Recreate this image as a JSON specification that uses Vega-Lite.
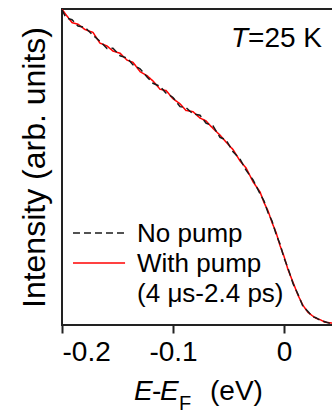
{
  "$schema": "https://vega.github.io/schema/vega-lite/v6.json",
  "width": 275,
  "height": 316,
  "autosize": {"type": "none"},
  "padding": {"left": 62, "top": 9, "right": 0, "bottom": 86},
  "background": "white",
  "config": {
    "view": {"stroke": "#222222", "strokeWidth": 2},
    "font": "Liberation Sans",
    "text": {"font": "Liberation Sans", "color": "#000000"}
  },
  "datasets": {
    "spectra": [
      {"E": -0.2000, "I": 0.997, "s": "No pump"}, {"E": -0.2000, "I": 0.999, "s": "With pump"},
      {"E": -0.1964, "I": 0.972, "s": "No pump"}, {"E": -0.1964, "I": 0.982, "s": "With pump"},
      {"E": -0.1910, "I": 0.966, "s": "No pump"}, {"E": -0.1910, "I": 0.957, "s": "With pump"},
      {"E": -0.1856, "I": 0.946, "s": "No pump"}, {"E": -0.1856, "I": 0.952, "s": "With pump"},
      {"E": -0.1793, "I": 0.942, "s": "No pump"}, {"E": -0.1793, "I": 0.935, "s": "With pump"},
      {"E": -0.1721, "I": 0.917, "s": "No pump"}, {"E": -0.1721, "I": 0.926, "s": "With pump"},
      {"E": -0.1658, "I": 0.898, "s": "No pump"}, {"E": -0.1658, "I": 0.892, "s": "With pump"},
      {"E": -0.1595, "I": 0.875, "s": "No pump"}, {"E": -0.1595, "I": 0.883, "s": "With pump"},
      {"E": -0.1541, "I": 0.876, "s": "No pump"}, {"E": -0.1541, "I": 0.867, "s": "With pump"},
      {"E": -0.1477, "I": 0.852, "s": "No pump"}, {"E": -0.1477, "I": 0.860, "s": "With pump"},
      {"E": -0.1414, "I": 0.845, "s": "No pump"}, {"E": -0.1414, "I": 0.838, "s": "With pump"},
      {"E": -0.1360, "I": 0.823, "s": "No pump"}, {"E": -0.1360, "I": 0.831, "s": "With pump"},
      {"E": -0.1297, "I": 0.811, "s": "No pump"}, {"E": -0.1297, "I": 0.802, "s": "With pump"},
      {"E": -0.1234, "I": 0.785, "s": "No pump"}, {"E": -0.1234, "I": 0.789, "s": "With pump"},
      {"E": -0.1180, "I": 0.765, "s": "No pump"}, {"E": -0.1180, "I": 0.772, "s": "With pump"},
      {"E": -0.1117, "I": 0.755, "s": "No pump"}, {"E": -0.1117, "I": 0.746, "s": "With pump"},
      {"E": -0.1063, "I": 0.734, "s": "No pump"}, {"E": -0.1063, "I": 0.742, "s": "With pump"},
      {"E": -0.1000, "I": 0.720, "s": "No pump"}, {"E": -0.1000, "I": 0.716, "s": "With pump"},
      {"E": -0.0937, "I": 0.691, "s": "No pump"}, {"E": -0.0937, "I": 0.700, "s": "With pump"},
      {"E": -0.0883, "I": 0.688, "s": "No pump"}, {"E": -0.0883, "I": 0.679, "s": "With pump"},
      {"E": -0.0820, "I": 0.668, "s": "No pump"}, {"E": -0.0820, "I": 0.675, "s": "With pump"},
      {"E": -0.0757, "I": 0.664, "s": "No pump"}, {"E": -0.0757, "I": 0.655, "s": "With pump"},
      {"E": -0.0703, "I": 0.639, "s": "No pump"}, {"E": -0.0703, "I": 0.646, "s": "With pump"},
      {"E": -0.0640, "I": 0.630, "s": "No pump"}, {"E": -0.0640, "I": 0.622, "s": "With pump"},
      {"E": -0.0577, "I": 0.594, "s": "No pump"}, {"E": -0.0577, "I": 0.601, "s": "With pump"},
      {"E": -0.0523, "I": 0.586, "s": "No pump"}, {"E": -0.0523, "I": 0.579, "s": "With pump"},
      {"E": -0.0459, "I": 0.548, "s": "No pump"}, {"E": -0.0459, "I": 0.555, "s": "With pump"},
      {"E": -0.0396, "I": 0.525, "s": "No pump"}, {"E": -0.0396, "I": 0.519, "s": "With pump"},
      {"E": -0.0342, "I": 0.490, "s": "No pump"}, {"E": -0.0342, "I": 0.497, "s": "With pump"},
      {"E": -0.0279, "I": 0.459, "s": "No pump"}, {"E": -0.0279, "I": 0.453, "s": "With pump"},
      {"E": -0.0216, "I": 0.415, "s": "No pump"}, {"E": -0.0216, "I": 0.421, "s": "With pump"},
      {"E": -0.0180, "I": 0.392, "s": "No pump"}, {"E": -0.0180, "I": 0.387, "s": "With pump"},
      {"E": -0.0144, "I": 0.355, "s": "No pump"}, {"E": -0.0144, "I": 0.361, "s": "With pump"},
      {"E": -0.0108, "I": 0.329, "s": "No pump"}, {"E": -0.0108, "I": 0.324, "s": "With pump"},
      {"E": -0.0072, "I": 0.288, "s": "No pump"}, {"E": -0.0072, "I": 0.293, "s": "With pump"},
      {"E": -0.0036, "I": 0.256, "s": "No pump"}, {"E": -0.0036, "I": 0.251, "s": "With pump"},
      {"E": 0.0000, "I": 0.212, "s": "No pump"}, {"E": 0.0000, "I": 0.217, "s": "With pump"},
      {"E": 0.0036, "I": 0.179, "s": "No pump"}, {"E": 0.0036, "I": 0.175, "s": "With pump"},
      {"E": 0.0081, "I": 0.131, "s": "No pump"}, {"E": 0.0081, "I": 0.135, "s": "With pump"},
      {"E": 0.0126, "I": 0.097, "s": "No pump"}, {"E": 0.0126, "I": 0.094, "s": "With pump"},
      {"E": 0.0171, "I": 0.058, "s": "No pump"}, {"E": 0.0171, "I": 0.062, "s": "With pump"},
      {"E": 0.0216, "I": 0.043, "s": "No pump"}, {"E": 0.0216, "I": 0.040, "s": "With pump"},
      {"E": 0.0252, "I": 0.027, "s": "No pump"}, {"E": 0.0252, "I": 0.030, "s": "With pump"},
      {"E": 0.0288, "I": 0.023, "s": "No pump"}, {"E": 0.0288, "I": 0.021, "s": "With pump"},
      {"E": 0.0324, "I": 0.015, "s": "No pump"}, {"E": 0.0324, "I": 0.017, "s": "With pump"},
      {"E": 0.0369, "I": 0.010, "s": "No pump"}, {"E": 0.0369, "I": 0.009, "s": "With pump"},
      {"E": 0.0414, "I": 0.005, "s": "No pump"}, {"E": 0.0414, "I": 0.007, "s": "With pump"},
      {"E": 0.0468, "I": 0.003, "s": "No pump"}, {"E": 0.0468, "I": 0.004, "s": "With pump"}
    ]
  },
  "layer": [
    {
      "data": {"name": "spectra"},
      "transform": [{"filter": "datum.s == 'With pump'"}],
      "mark": {"type": "line", "strokeWidth": 1.5, "clip": true},
      "encoding": {
        "x": {
          "field": "E", "type": "quantitative",
          "scale": {"domain": [-0.2, 0.0477], "nice": false, "zero": false},
          "axis": {
            "values": [-0.2, -0.1, 0],
            "labelExpr": "datum.value == 0 ? '0' : replace(format(datum.value, '.1f'), '\u2212', '-')",
            "title": null, "grid": false, "domain": false,
            "tickSize": 8, "tickWidth": 2, "tickColor": "#222222",
            "labelFontSize": 28, "labelFont": "Liberation Sans", "labelColor": "#000000",
            "labelPadding": 5
          }
        },
        "y": {
          "field": "I", "type": "quantitative",
          "scale": {"domain": [0, 1], "nice": false, "zero": false},
          "axis": {
            "ticks": false, "labels": false, "domain": false, "grid": false,
            "title": "Intensity (arb. units)",
            "titleFontSize": 32, "titleFont": "Liberation Sans", "titleFontWeight": "normal", "titleColor": "#000000",
            "titleAngle": -90, "titleX": -28, "titleY": 158,
            "titleAlign": "center", "titleBaseline": "middle"
          }
        },
        "color": {
          "field": "s", "type": "nominal",
          "scale": {"domain": ["No pump", "With pump"], "range": ["#1a1a1a", "#ff0000"]},
          "legend": null
        },
        "strokeDash": {
          "field": "s", "type": "nominal",
          "scale": {"domain": ["No pump", "With pump"], "range": [[7, 4], [1, 0]]},
          "legend": null
        }
      }
    },
    {
      "data": {"name": "spectra"},
      "transform": [{"filter": "datum.s == 'No pump'"}],
      "mark": {"type": "line", "strokeWidth": 1.5, "clip": true},
      "encoding": {
        "x": {"field": "E", "type": "quantitative"},
        "y": {"field": "I", "type": "quantitative"},
        "color": {"field": "s", "type": "nominal", "legend": null},
        "strokeDash": {"field": "s", "type": "nominal", "legend": null}
      }
    },
    {
      "data": {"values": [{"s": "No pump"}]},
      "mark": {"type": "rule", "strokeWidth": 1.6},
      "encoding": {
        "x": {"datum": -0.1901}, "x2": {"datum": -0.1432}, "y": {"datum": 0.291},
        "color": {"field": "s", "type": "nominal", "legend": null},
        "strokeDash": {"field": "s", "type": "nominal", "legend": null}
      }
    },
    {
      "data": {"values": [{"s": "With pump"}]},
      "mark": {"type": "rule", "strokeWidth": 1.6},
      "encoding": {
        "x": {"datum": -0.1901}, "x2": {"datum": -0.1432}, "y": {"datum": 0.196},
        "color": {"field": "s", "type": "nominal", "legend": null},
        "strokeDash": {"field": "s", "type": "nominal", "legend": null}
      }
    },
    {
      "data": {"values": [{"t": "No pump"}]},
      "mark": {"type": "text", "align": "left", "baseline": "alphabetic", "fontSize": 26},
      "encoding": {"x": {"datum": -0.1324}, "y": {"datum": 0.263}, "text": {"field": "t"}}
    },
    {
      "data": {"values": [{"t": "With pump"}]},
      "mark": {"type": "text", "align": "left", "baseline": "alphabetic", "fontSize": 26},
      "encoding": {"x": {"datum": -0.1324}, "y": {"datum": 0.168}, "text": {"field": "t"}}
    },
    {
      "data": {"values": [{"t": "(4 \u03bcs-2.4 ps)"}]},
      "mark": {"type": "text", "align": "left", "baseline": "alphabetic", "fontSize": 26},
      "encoding": {"x": {"datum": -0.1324}, "y": {"datum": 0.073}, "text": {"field": "t"}}
    },
    {
      "data": {"values": [{"t": "T"}]},
      "mark": {"type": "text", "align": "left", "baseline": "alphabetic", "fontSize": 28, "fontStyle": "italic"},
      "encoding": {"x": {"datum": -0.0477}, "y": {"datum": 0.88}, "text": {"field": "t"}}
    },
    {
      "data": {"values": [{"t": "=25 K"}]},
      "mark": {"type": "text", "align": "left", "baseline": "alphabetic", "fontSize": 28},
      "encoding": {"x": {"datum": -0.0324}, "y": {"datum": 0.88}, "text": {"field": "t"}}
    },
    {
      "data": {"values": [{"t": "E"}]},
      "mark": {"type": "text", "align": "left", "baseline": "alphabetic", "fontSize": 28, "fontStyle": "italic"},
      "encoding": {"x": {"datum": -0.1351}, "y": {"datum": -0.237}, "text": {"field": "t"}}
    },
    {
      "data": {"values": [{"t": "-"}]},
      "mark": {"type": "text", "align": "left", "baseline": "alphabetic", "fontSize": 28},
      "encoding": {"x": {"datum": -0.1189}, "y": {"datum": -0.237}, "text": {"field": "t"}}
    },
    {
      "data": {"values": [{"t": "E"}]},
      "mark": {"type": "text", "align": "left", "baseline": "alphabetic", "fontSize": 28, "fontStyle": "italic"},
      "encoding": {"x": {"datum": -0.1117}, "y": {"datum": -0.237}, "text": {"field": "t"}}
    },
    {
      "data": {"values": [{"t": "F"}]},
      "mark": {"type": "text", "align": "left", "baseline": "alphabetic", "fontSize": 20},
      "encoding": {"x": {"datum": -0.0946}, "y": {"datum": -0.269}, "text": {"field": "t"}}
    },
    {
      "data": {"values": [{"t": "(eV)"}]},
      "mark": {"type": "text", "align": "left", "baseline": "alphabetic", "fontSize": 28},
      "encoding": {"x": {"datum": -0.0667}, "y": {"datum": -0.237}, "text": {"field": "t"}}
    }
  ]
}
